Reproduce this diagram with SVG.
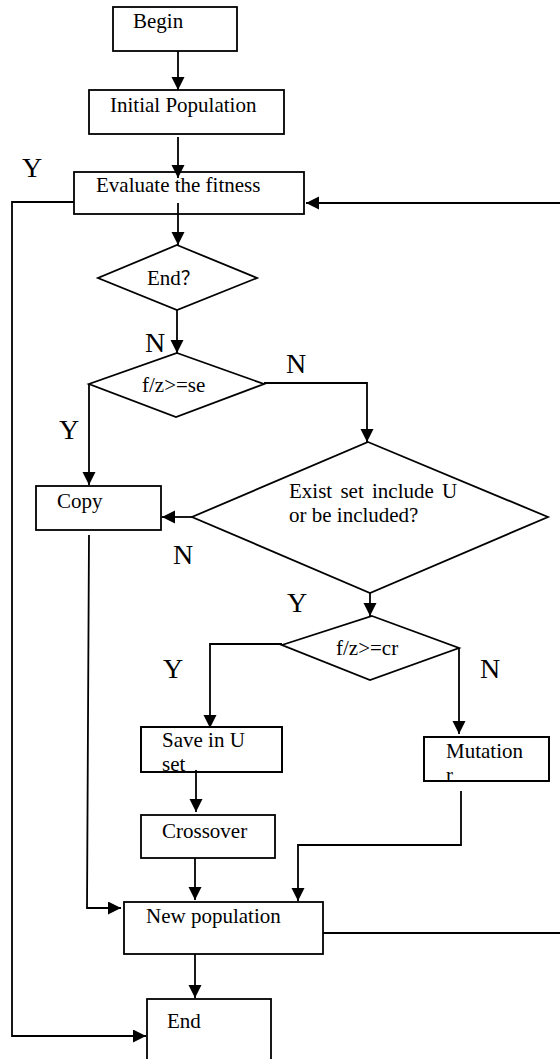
<svg xmlns="http://www.w3.org/2000/svg" width="560" height="1059" viewBox="0 0 560 1059">
<style>
.box{fill:#fff;stroke:#000;stroke-width:1.8}
.t{font-family:"Liberation Serif",serif;font-size:21px;fill:#000}
.cjk{font-family:"Noto Sans CJK SC",sans-serif;font-size:19px;fill:#000}
.lbl{font-family:"Liberation Serif",serif;font-size:28px;fill:#000}
.c{fill:none;stroke:#000;stroke-width:1.8}
.a{marker-end:url(#ah)}
</style>
<defs>
<marker id="ah" markerUnits="userSpaceOnUse" markerWidth="14" markerHeight="14" refX="13" refY="6.5" orient="auto">
<path d="M0,0 L13,6.5 L0,13 Z" fill="#000"/>
</marker>
<clipPath id="clipSave"><rect x="141" y="727" width="141" height="46"/></clipPath>
<clipPath id="clipMut"><rect x="424" y="737" width="125" height="45"/></clipPath>
</defs>
<g id="nodes">
<g id="begin"><rect class="box" x="113" y="7" width="124" height="44"/><text class="t" x="133" y="28">Begin</text></g>
<g id="init"><rect class="box" x="89" y="90" width="195" height="44"/><text class="t" x="110" y="112">Initial Population</text></g>
<g id="eval"><rect class="box" x="74" y="172" width="230" height="42"/><text class="t" x="96" y="192">Evaluate the fitness</text></g>
<g id="endq"><polygon class="box" points="177,245 257,278 177,310 98,278"/><text class="t" x="147" y="285">End<tspan class="cjk">？</tspan></text></g>
<g id="fzse"><polygon class="box" points="177,353 264,384 176,417 89,384"/><text class="t" x="142" y="392">f/z&gt;=se</text></g>
<g id="exist"><polygon class="box" points="368,442 548,517 370,593 192,517"/><text class="t" x="289" y="498" word-spacing="3">Exist set include U</text><text class="t" x="289" y="522">or be included?</text></g>
<g id="copy"><rect class="box" x="36" y="486" width="125" height="44"/><text class="t" x="57" y="508">Copy</text></g>
<g id="fzcr"><polygon class="box" points="372,616 459,648 370,680 282,645"/><text class="t" x="336" y="655">f/z&gt;=cr</text></g>
<g id="save"><rect class="box" x="141" y="727" width="141" height="45"/><g clip-path="url(#clipSave)"><text class="t" x="162" y="747">Save in U</text><text class="t" x="162" y="771">set</text></g><rect x="141" y="727" width="141" height="45" fill="none" stroke="#000" stroke-width="1.8"/></g>
<g id="mutation"><rect class="box" x="424" y="737" width="125" height="44"/><g clip-path="url(#clipMut)"><text class="t" x="446" y="758">Mutation</text><text class="t" x="446" y="782">r</text></g><rect x="424" y="737" width="125" height="44" fill="none" stroke="#000" stroke-width="1.8"/></g>
<g id="crossover"><rect class="box" x="141" y="815" width="134" height="43"/><text class="t" x="162" y="838">Crossover</text></g>
<g id="newpop"><rect class="box" x="124" y="902" width="199" height="52"/><text class="t" x="146" y="923">New population</text></g>
<g id="end"><rect class="box" x="147" y="999" width="124" height="80"/><text class="t" x="167" y="1028">End</text></g>
</g>
<g id="connectors">
<path class="c a" d="M178,51 V90"/>
<path class="c a" d="M178,137 V178"/>
<path class="c a" d="M178,203 V245"/>
<path class="c a" d="M177,310 V353"/>
<path class="c a" d="M264,383 H367 V442"/>
<path class="c a" d="M89,384 V485"/>
<path class="c a" d="M192,517 H162"/>
<path class="c a" d="M370,593 V616"/>
<path class="c a" d="M282,644 H210 V728"/>
<path class="c a" d="M459,648 V734"/>
<path class="c a" d="M196,770 V812"/>
<path class="c a" d="M195,858 V900"/>
<path class="c a" d="M461,791 V845 H298 V901"/>
<path class="c a" d="M89,535 L87,908 H121"/>
<path class="c" d="M323,933 H560"/>
<path class="c a" d="M560,203 H306"/>
<path class="c a" d="M195,954 V998"/>
<path class="c a" d="M74,202 H12 V1036 H146"/>
</g>
<g id="labels">
<text class="lbl" x="22" y="177">Y</text>
<text class="lbl" x="145" y="352">N</text>
<text class="lbl" x="286" y="373">N</text>
<text class="lbl" x="59" y="439">Y</text>
<text class="lbl" x="173" y="564">N</text>
<text class="lbl" x="287" y="612">Y</text>
<text class="lbl" x="163" y="678">Y</text>
<text class="lbl" x="480" y="678">N</text>
</g>
</svg>
